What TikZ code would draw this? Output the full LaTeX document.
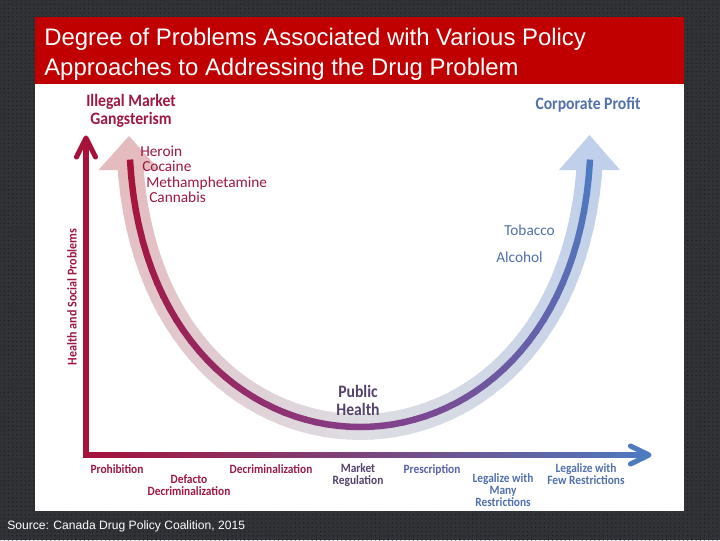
\documentclass[tikz,border=0pt]{standalone}
\usepackage{fontspec}
\setmainfont{Liberation Sans}
\newfontfamily\slidecond[FakeStretch=0.9]{Carlito}
\newfontfamily\slidereg{Carlito}
\usetikzlibrary{calc,patterns}
\definecolor{SlideRed}{RGB}{192,0,0}
\definecolor{BackGray}{RGB}{48,50,54}
\definecolor{BackDot}{RGB}{26,27,30}
\definecolor{HarmRed}{RGB}{166,18,58}
\definecolor{HarmText}{RGB}{158,24,66}
\definecolor{DecrimText}{RGB}{150,30,78}
\definecolor{MidPurple}{RGB}{134,62,136}
\definecolor{MidText}{RGB}{84,66,108}
\definecolor{PrescText}{RGB}{88,98,168}
\definecolor{ProfitBlue}{RGB}{78,122,192}
\definecolor{ProfitText}{RGB}{82,112,172}
\definecolor{BandPink}{RGB}{228,188,192}
\definecolor{BandGray}{RGB}{221,221,227}
\definecolor{BandBlue}{RGB}{192,208,234}
\tikzset{
  titletext/.style={text=white, align=left, inner sep=0pt,
    font=\fontsize{17}{21}\selectfont},
  bigtag/.style={inner sep=0pt, align=center,
    font=\slidecond\bfseries\fontsize{12.4}{12.2}\selectfont},
  drugtag/.style={inner sep=0pt, font=\slidereg\fontsize{10.9}{11}\selectfont},
  policytag/.style={inner sep=0pt, align=center,
    font=\slidecond\bfseries\fontsize{9}{8.4}\selectfont},
  axistag/.style={inner sep=0pt, font=\slidecond\bfseries\fontsize{9.5}{11}\selectfont},
  sourcetext/.style={text=white, inner sep=0pt, font=\fontsize{8.6}{10}\selectfont},
  bandseg/.style={line width=18.4pt, line cap=butt, shorten <=-0.6pt, shorten >=-0.6pt},
  coreseg/.style={line width=4.6pt, line cap=butt, shorten <=-0.3pt, shorten >=-0.3pt},
  axisline/.style={line width=3.6pt, line cap=butt},
  chevron/.style={line width=3.6pt, line cap=round, line join=round}
}

\begin{document}
\begin{tikzpicture}[x=0.025cm, y=-0.025cm]
  \useasboundingbox (0,0) rectangle (720,540);
  % backdrop and slide
  \fill[BackGray] (0,0) rectangle (720,540);
  \fill[pattern=dots, pattern color=BackDot] (0,0) rectangle (720,540);
  \fill[white] (35,17) rectangle (684,511);
  \fill[SlideRed] (35,17) rectangle (684,84);
  \node[titletext, anchor=base west] (title) at (44,75)
    {Degree of Problems Associated with Various Policy\\Approaches to Addressing the Drug Problem};

  % the U curve
  \coordinate (harm) at (130,160);
  \coordinate (profit) at (590,160);
  \coordinate (harmtip) at (129,136);
  \coordinate (profittip) at (589.5,135);
  \foreach \i in {0,...,60}
    \path (harm) .. controls (150,516) and (570,516) .. (profit) coordinate[pos=\i/60] (u\i);

  \foreach \i [count=\j] in {0,...,59} {
    \ifnum\i<30
      \pgfmathsetmacro\mixpct{100*\i/30}
      \colorlet{segcol}{BandGray!\mixpct!BandPink}
    \else
      \pgfmathsetmacro\mixpct{100*(\i-30)/29}
      \colorlet{segcol}{BandBlue!\mixpct!BandGray}
    \fi
    \draw[bandseg, segcol] (u\i) -- (u\j);
  }
  \fill[BandPink] (harmtip) -- ($(harmtip)+(-30.5,34)$) -- ($(harmtip)+(30.5,34)$) -- cycle;
  \fill[BandBlue] (profittip) -- ($(profittip)+(-30.5,35)$) -- ($(profittip)+(30.5,35)$) -- cycle;

  \foreach \i [count=\j] in {0,...,59} {
    \ifnum\i<30
      \pgfmathsetmacro\mixpct{100*\i/30}
      \colorlet{segcol}{MidPurple!\mixpct!HarmRed}
    \else
      \pgfmathsetmacro\mixpct{100*(\i-30)/29}
      \colorlet{segcol}{ProfitBlue!\mixpct!MidPurple}
    \fi
    \draw[coreseg, segcol] (u\i) -- (u\j);
  }

  % axes
  \coordinate (origin) at (86,455);
  \coordinate (ytip) at (86,138);
  \coordinate (xtip) at (649,455);
  \shade[left color=HarmRed, middle color=MidPurple, right color=ProfitBlue]
    ($(origin)+(-2.5,-2.5)$) rectangle ($(xtip)+(-1,2.5)$);
  \draw[axisline, HarmRed] ($(origin)+(0,2.5)$) -- (ytip);
  \draw[chevron, HarmRed] ($(ytip)+(-9.5,19)$) -- (ytip) -- ($(ytip)+(9.5,19)$);
  \draw[chevron, ProfitBlue] ($(xtip)+(-18.5,-9)$) -- (xtip) -- ($(xtip)+(-18.5,9)$);
  \node[axistag, text=HarmText, rotate=90] (ylabel) at (72,297) {Health and Social Problems};

  % labels on the curve
  \node[bigtag, text=HarmText, anchor=base] (illegal) at (131,124) {Illegal Market\\Gangsterism};
  \node[bigtag, text=ProfitText, anchor=base] (corporate) at (588,109) {Corporate Profit};
  \node[drugtag, text=HarmText, anchor=base west] (heroin) at (140,156) {Heroin};
  \node[drugtag, text=HarmText, anchor=base west] (cocaine) at (142,171) {Cocaine};
  \node[drugtag, text=HarmText, anchor=base west] (meth) at (146,187) {Methamphetamine};
  \node[drugtag, text=HarmText, anchor=base west] (cannabis) at (149,202) {Cannabis};
  \node[drugtag, text=ProfitText, anchor=base west] (tobacco) at (504,235) {Tobacco};
  \node[drugtag, text=ProfitText, anchor=base west] (alcohol) at (496,262) {Alcohol};
  \node[bigtag, text=MidText, anchor=base] (public) at (358,415) {Public\\Health};

  % policy scale
  \node[policytag, text=HarmText, anchor=base] (prohib) at (117,473) {Prohibition};
  \node[policytag, text=HarmText, anchor=base] (defacto) at (189,495) {Defacto\\Decriminalization};
  \node[policytag, text=DecrimText, anchor=base] (decrim) at (271,473) {Decriminalization};
  \node[policytag, text=MidText, anchor=base] (market) at (358,484) {Market\\Regulation};
  \node[policytag, text=PrescText, anchor=base] (presc) at (432,473) {Prescription};
  \node[policytag, text=ProfitText, anchor=base] (manyrest) at (503,506) {Legalize with\\Many\\Restrictions};
  \node[policytag, text=ProfitText, anchor=base] (fewrest) at (586,484) {Legalize with\\Few Restrictions};

  \node[sourcetext, anchor=base west] (source) at (7,529) {Source: Canada Drug Policy Coalition, 2015};
\end{tikzpicture}
\end{document}
